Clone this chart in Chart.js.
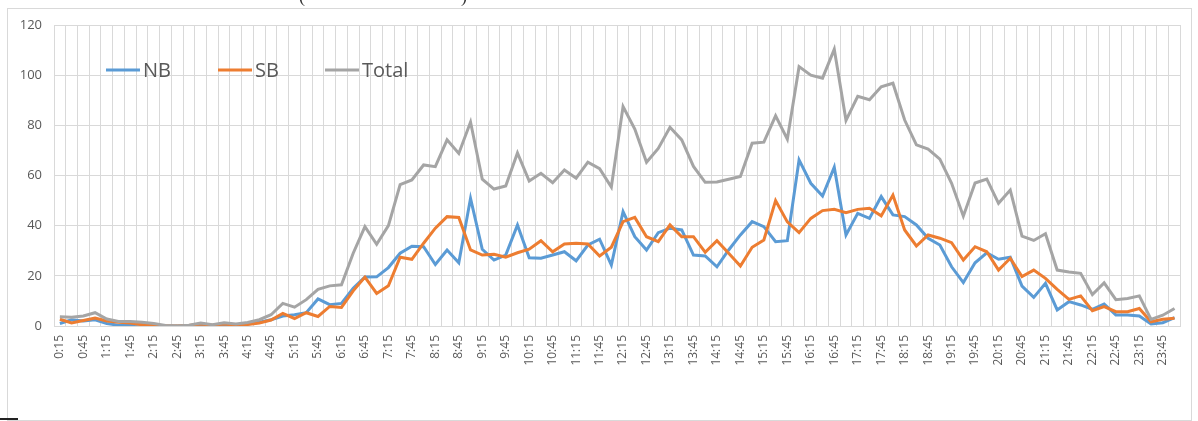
<!DOCTYPE html>
<html>
<head>
<meta charset="utf-8">
<script src="https://cdn.jsdelivr.net/npm/chart.js@4.4.1/dist/chart.umd.min.js"></script>
<style>
  html, body { margin: 0; padding: 0; background: #fff; }
  #wrap { position: absolute; left: 0; top: 0; width: 1198px; height: 421px; }
  #frame { position: absolute; left: 7px; top: 8px; width: 1183px; height: 411px; border: 1px solid #d9d9d9; }
  .cut { position: absolute; top: -14px; font: 18px "Liberation Serif", serif; color: #333; }
  #dash { position: absolute; left: 0; top: 418px; width: 18px; height: 2px; background: #222; }
</style>
</head>
<body>
<div id="wrap">
  <div id="frame"></div>
  <span class="cut" style="left:299px">(</span>
  <span class="cut" style="left:461px">)</span>
  <div id="dash"></div>
  <canvas id="chart"></canvas>
</div>
<script>
// 15-minute intervals, 0:15 ... 24:00
const timeLabels = [];
for (let m = 15; m <= 24 * 60; m += 15) {
  timeLabels.push(Math.floor(m / 60) + ":" + String(m % 60).padStart(2, "0"));
}

const nbValues = [
  1, 2.5, 2, 2.5, 1, 0.3, 0.5, 0.8, 0.3, 0,
  0, 0, 0.3, 0.2, 0.5, 0.5, 0.8, 1.5, 2.5, 4,
  4.5, 5.3, 10.8, 8.5, 9, 15, 19.5, 19.6, 23.3, 29,
  31.8, 31.6, 24.5, 30.3, 25.2, 50.9, 30.6, 26.3, 28.3, 40.3,
  27.2, 27, 28.3, 29.6, 26, 32.3, 34.6, 24.3, 45.6, 35.6,
  30.3, 37.2, 39, 38.3, 28.3, 27.9, 23.6, 30.3, 36.3, 41.6,
  39.6, 33.6, 34, 66.2, 56.9, 51.8, 63.3, 36.3, 44.9, 42.9,
  51.6, 44.3, 43.6, 40.3, 35, 32.3, 23.6, 17.3, 25.2, 29.2,
  26.6, 27.4, 15.9, 11.4, 17, 6.4, 9.7, 8.4, 6.6, 8.8,
  4.4, 4.4, 4, 0.8, 1.3, 3.3
];

const sbValues = [
  2.7, 1.2, 2.2, 3.2, 2, 1.5, 1.2, 0.5, 0.5, 0,
  0, 0.2, 0.8, 0.3, 0.8, 0.3, 0.6, 1.2, 2.4, 5,
  3, 5.3, 3.8, 7.8, 7.4, 14, 19.5, 13, 16, 27.4,
  26.6, 33, 39, 43.6, 43.3, 30.3, 28.3, 28.6, 27.4, 29.2,
  30.6, 34, 29.6, 32.7, 33, 32.7, 27.9, 31.4, 41.6, 43.3,
  35.6, 33.6, 40.3, 35.6, 35.6, 29.4, 34, 29, 23.9, 31.4,
  34.3, 50, 41.5, 37.2, 42.9, 46, 46.5, 45.2, 46.5, 46.9,
  43.9, 52.2, 38.3, 31.9, 36.3, 35, 33.2, 26.3, 31.6, 29.6,
  22.3, 27, 19.7, 22.3, 19, 14.6, 10.6, 12, 6.1, 7.7,
  5.7, 5.7, 7, 1.7, 2.7, 3.1
];

const totalValues = [
  3.7, 3.5, 4, 5.3, 2.8, 1.8, 1.8, 1.5, 1, 0.2,
  0, 0.3, 1.2, 0.5, 1.3, 0.8, 1.4, 2.5, 4.5, 9,
  7.5, 10.5, 14.6, 16, 16.4, 29, 39.6, 32.6, 40, 56.4,
  58.2, 64.2, 63.5, 74.2, 68.8, 81.3, 58.5, 54.6, 55.8, 69,
  57.8, 60.9, 57.1, 62.2, 58.9, 65.3, 62.7, 55.4, 87.5, 78.5,
  65.3, 70.8, 79.2, 74.2, 63.6, 57.3, 57.4, 58.5, 59.6, 72.9,
  73.3, 83.8, 74.5, 103.4, 100, 98.8, 110.3, 82, 91.6, 90.2,
  95.4, 96.8, 82.1, 72.2, 70.5, 66.5, 56.9, 43.8, 57, 58.6,
  48.9, 54.2, 35.8, 34.1, 36.8, 22.3, 21.5, 21, 12.5, 17.2,
  10.5, 11, 12, 2.6, 4.3, 7
];

const seriesNames = ["NB", "SB", "Total"];
const seriesColors = ["#5b9bd5", "#ed7d31", "#a5a5a5"];

// legend drawn inside the plot, like the Excel original
const insideLegend = {
  id: "insideLegend",
  afterDatasetsDraw(chart) {
    const ctx = chart.ctx;
    const xs = [106, 218, 325];
    const y = 70;
    ctx.save();
    ctx.font = "20px 'Open Sans', sans-serif";
    ctx.textBaseline = "middle";
    ctx.fillStyle = "#595959";
    chart.data.datasets.forEach((ds, i) => {
      ctx.strokeStyle = ds.borderColor;
      ctx.lineWidth = 3;
      ctx.beginPath();
      ctx.moveTo(xs[i], y);
      ctx.lineTo(xs[i] + 34, y);
      ctx.stroke();
      ctx.fillText(ds.label, xs[i] + 37, y + 1);
    });
    ctx.restore();
  }
};

function makeSet(i, values, order) {
  return {
    label: seriesNames[i],
    data: values,
    borderColor: seriesColors[i],
    backgroundColor: seriesColors[i],
    borderWidth: 3,
    pointRadius: 0,
    tension: 0,
    order: order
  };
}

new Chart(document.getElementById("chart"), {
  type: "line",
  data: {
    labels: timeLabels,
    datasets: [
      makeSet(0, nbValues, 3),
      makeSet(1, sbValues, 2),
      makeSet(2, totalValues, 1)
    ]
  },
  options: {
    responsive: true,
    maintainAspectRatio: false,
    animation: false,
    layout: { padding: { left: 8, top: 25, right: 13, bottom: 0 } },
    plugins: {
      legend: { display: false },
      tooltip: { enabled: false }
    },
    scales: {
      x: {
        offset: true,
        grid: { offset: true, color: "#d9d9d9", drawTicks: false },
        border: { color: "#d9d9d9" },
        ticks: {
          autoSkip: false,
          minRotation: 90,
          maxRotation: 90,
          padding: 9,
          color: "#595959",
          font: { family: "'Open Sans', sans-serif", size: 12 },
          callback: function (val, idx) {
            return idx % 2 === 0 ? this.getLabelForValue(val) : "";
          }
        },
        afterFit(scale) { scale.height = 95; }
      },
      y: {
        min: 0,
        max: 120,
        grid: { color: "#d9d9d9", drawTicks: false },
        border: { display: false },
        ticks: {
          stepSize: 20,
          padding: 12,
          color: "#595959",
          font: { family: "'Open Sans', sans-serif", size: 13 }
        },
        afterFit(scale) { scale.width = 46; }
      }
    }
  },
  plugins: [insideLegend]
});
</script>
</body>
</html>
